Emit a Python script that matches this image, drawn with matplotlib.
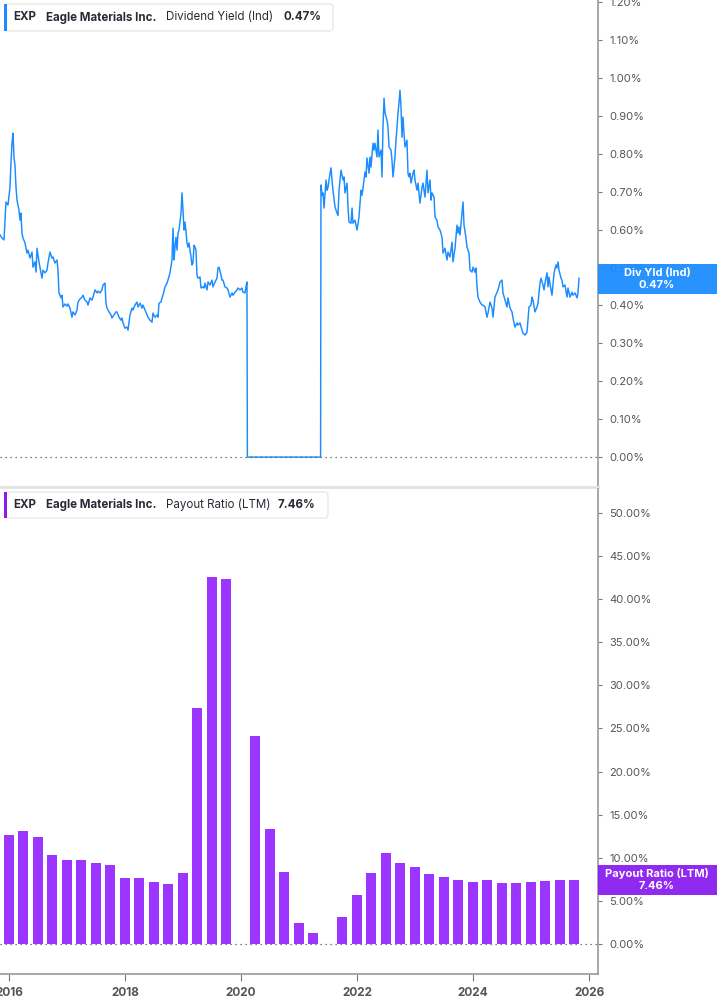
import numpy as np
import pandas as pd
import matplotlib
matplotlib.use('Agg')
import matplotlib.pyplot as plt
from matplotlib.patches import Rectangle, FancyBboxPatch
from matplotlib.ticker import FuncFormatter

plt.rcParams['font.family'] = ['Inter', 'DejaVu Sans']

# Dividend yield (Ind), decimal year / percent
div_years = [
    2015.845, 2015.879, 2015.914, 2015.931, 2015.948, 2015.983, 2016.017, 2016.034, 2016.052, 2016.069,
    2016.086, 2016.103, 2016.121, 2016.138, 2016.172, 2016.190, 2016.207, 2016.224, 2016.241, 2016.276,
    2016.310, 2016.328, 2016.362, 2016.397, 2016.414, 2016.448, 2016.466, 2016.483, 2016.517, 2016.534,
    2016.569, 2016.586, 2016.621, 2016.655, 2016.672, 2016.707, 2016.741, 2016.759, 2016.793, 2016.828,
    2016.845, 2016.862, 2016.897, 2016.914, 2016.931, 2016.966, 2017.000, 2017.017, 2017.052, 2017.086,
    2017.103, 2017.138, 2017.172, 2017.190, 2017.224, 2017.259, 2017.276, 2017.310, 2017.345, 2017.362,
    2017.397, 2017.431, 2017.448, 2017.483, 2017.517, 2017.534, 2017.569, 2017.603, 2017.621, 2017.655,
    2017.672, 2017.690, 2017.724, 2017.759, 2017.776, 2017.810, 2017.845, 2017.862, 2017.897, 2017.931,
    2017.948, 2017.966, 2018.000, 2018.034, 2018.052, 2018.086, 2018.121, 2018.138, 2018.172, 2018.207,
    2018.224, 2018.259, 2018.293, 2018.310, 2018.345, 2018.379, 2018.397, 2018.431, 2018.466, 2018.483,
    2018.517, 2018.552, 2018.569, 2018.586, 2018.621, 2018.638, 2018.655, 2018.690, 2018.724, 2018.741,
    2018.776, 2018.810, 2018.828, 2018.845, 2018.862, 2018.879, 2018.897, 2018.914, 2018.931, 2018.966,
    2018.983, 2019.000, 2019.017, 2019.034, 2019.052, 2019.069, 2019.086, 2019.103, 2019.138, 2019.155,
    2019.172, 2019.190, 2019.207, 2019.224, 2019.241, 2019.259, 2019.293, 2019.310, 2019.345, 2019.362,
    2019.379, 2019.414, 2019.431, 2019.466, 2019.500, 2019.517, 2019.552, 2019.586, 2019.603, 2019.621,
    2019.655, 2019.672, 2019.690, 2019.724, 2019.759, 2019.776, 2019.810, 2019.845, 2019.862, 2019.897,
    2019.931, 2019.948, 2019.983, 2020.017, 2020.034, 2020.069, 2020.086, 2020.103, 2020.110, 2021.372,
    2021.379, 2021.397, 2021.414, 2021.431, 2021.466, 2021.483, 2021.500, 2021.517, 2021.552, 2021.569,
    2021.586, 2021.621, 2021.655, 2021.672, 2021.690, 2021.724, 2021.759, 2021.776, 2021.793, 2021.828,
    2021.845, 2021.862, 2021.897, 2021.914, 2021.931, 2021.966, 2022.000, 2022.017, 2022.034, 2022.069,
    2022.086, 2022.103, 2022.138, 2022.155, 2022.172, 2022.207, 2022.224, 2022.241, 2022.276, 2022.293,
    2022.310, 2022.345, 2022.362, 2022.379, 2022.414, 2022.431, 2022.448, 2022.466, 2022.483, 2022.517,
    2022.534, 2022.552, 2022.586, 2022.603, 2022.621, 2022.655, 2022.672, 2022.690, 2022.707, 2022.724,
    2022.741, 2022.759, 2022.776, 2022.793, 2022.810, 2022.828, 2022.862, 2022.879, 2022.897, 2022.914,
    2022.931, 2022.966, 2022.983, 2023.000, 2023.034, 2023.052, 2023.086, 2023.121, 2023.138, 2023.172,
    2023.207, 2023.224, 2023.259, 2023.276, 2023.293, 2023.328, 2023.345, 2023.379, 2023.397, 2023.431,
    2023.466, 2023.483, 2023.517, 2023.552, 2023.569, 2023.603, 2023.638, 2023.655, 2023.690, 2023.724,
    2023.741, 2023.759, 2023.776, 2023.810, 2023.828, 2023.845, 2023.879, 2023.897, 2023.931, 2023.948,
    2023.983, 2024.000, 2024.034, 2024.052, 2024.069, 2024.086, 2024.121, 2024.155, 2024.172, 2024.207,
    2024.241, 2024.259, 2024.293, 2024.328, 2024.345, 2024.379, 2024.414, 2024.431, 2024.466, 2024.500,
    2024.517, 2024.552, 2024.586, 2024.603, 2024.638, 2024.672, 2024.690, 2024.707, 2024.724, 2024.759,
    2024.776, 2024.810, 2024.845, 2024.862, 2024.897, 2024.931, 2024.948, 2024.966, 2025.000, 2025.017,
    2025.034, 2025.069, 2025.103, 2025.121, 2025.155, 2025.172, 2025.207, 2025.224, 2025.241, 2025.276,
    2025.293, 2025.310, 2025.345, 2025.362, 2025.379, 2025.397, 2025.431, 2025.448, 2025.466, 2025.483,
    2025.517, 2025.534, 2025.552, 2025.586, 2025.621, 2025.638, 2025.672, 2025.707, 2025.724, 2025.759,
    2025.793, 2025.810, 2025.828,
]
div_yield = [
    0.586, 0.578, 0.573, 0.625, 0.673, 0.665, 0.712, 0.776, 0.828, 0.855,
    0.792, 0.770, 0.712, 0.678, 0.652, 0.625, 0.644, 0.591, 0.578, 0.565,
    0.538, 0.546, 0.525, 0.541, 0.501, 0.515, 0.488, 0.551, 0.515, 0.501,
    0.472, 0.493, 0.486, 0.493, 0.512, 0.541, 0.525, 0.528, 0.512, 0.520,
    0.493, 0.433, 0.420, 0.427, 0.396, 0.404, 0.398, 0.404, 0.393, 0.369,
    0.383, 0.375, 0.388, 0.409, 0.417, 0.422, 0.427, 0.414, 0.409, 0.401,
    0.420, 0.414, 0.422, 0.441, 0.433, 0.438, 0.433, 0.441, 0.454, 0.459,
    0.406, 0.393, 0.383, 0.375, 0.367, 0.375, 0.383, 0.383, 0.369, 0.361,
    0.367, 0.354, 0.340, 0.343, 0.335, 0.375, 0.393, 0.388, 0.401, 0.409,
    0.396, 0.406, 0.393, 0.401, 0.388, 0.375, 0.369, 0.361, 0.356, 0.380,
    0.369, 0.375, 0.369, 0.406, 0.409, 0.420, 0.427, 0.449, 0.459, 0.467,
    0.486, 0.520, 0.604, 0.520, 0.554, 0.580, 0.546, 0.591, 0.599, 0.644,
    0.697, 0.652, 0.599, 0.620, 0.594, 0.565, 0.554, 0.565, 0.528, 0.507,
    0.512, 0.559, 0.554, 0.546, 0.480, 0.472, 0.475, 0.446, 0.449, 0.446,
    0.459, 0.441, 0.462, 0.454, 0.467, 0.449, 0.462, 0.472, 0.499, 0.501,
    0.480, 0.467, 0.467, 0.449, 0.446, 0.441, 0.422, 0.433, 0.427, 0.435,
    0.441, 0.446, 0.441, 0.446, 0.435, 0.433, 0.449, 0.462, 0.000, 0.000,
    0.718, 0.691, 0.697, 0.657, 0.731, 0.704, 0.712, 0.731, 0.763, 0.731,
    0.704, 0.660, 0.644, 0.638, 0.704, 0.757, 0.731, 0.739, 0.697, 0.723,
    0.660, 0.620, 0.617, 0.657, 0.617, 0.625, 0.599, 0.617, 0.633, 0.704,
    0.691, 0.710, 0.752, 0.739, 0.789, 0.749, 0.792, 0.765, 0.828, 0.810,
    0.828, 0.792, 0.863, 0.792, 0.810, 0.739, 0.871, 0.947, 0.908, 0.889,
    0.871, 0.818, 0.810, 0.784, 0.739, 0.792, 0.836, 0.871, 0.908, 0.934,
    0.968, 0.923, 0.844, 0.897, 0.855, 0.818, 0.836, 0.749, 0.739, 0.749,
    0.723, 0.749, 0.757, 0.731, 0.704, 0.723, 0.670, 0.712, 0.723, 0.686,
    0.757, 0.697, 0.731, 0.678, 0.697, 0.686, 0.633, 0.625, 0.607, 0.599,
    0.580, 0.538, 0.551, 0.520, 0.541, 0.528, 0.567, 0.515, 0.551, 0.612,
    0.591, 0.607, 0.586, 0.644, 0.673, 0.612, 0.578, 0.554, 0.538, 0.493,
    0.488, 0.501, 0.488, 0.499, 0.449, 0.422, 0.409, 0.401, 0.401, 0.396,
    0.369, 0.380, 0.409, 0.393, 0.369, 0.422, 0.435, 0.441, 0.462, 0.467,
    0.433, 0.414, 0.396, 0.420, 0.393, 0.383, 0.367, 0.354, 0.343, 0.354,
    0.348, 0.354, 0.335, 0.327, 0.322, 0.330, 0.361, 0.396, 0.401, 0.422,
    0.414, 0.383, 0.396, 0.406, 0.459, 0.472, 0.454, 0.441, 0.459, 0.486,
    0.449, 0.475, 0.441, 0.427, 0.454, 0.486, 0.507, 0.499, 0.515, 0.493,
    0.472, 0.467, 0.449, 0.454, 0.422, 0.446, 0.422, 0.435, 0.427, 0.433,
    0.420, 0.433, 0.472,
]

# Payout ratio (LTM), quarterly, percent (0 = no bar)
quarters = pd.date_range('2015-12-31', '2025-09-30', freq='QE')
payout = [
    12.6, 13.1, 12.4, 10.3, 9.7, 9.8, 9.35, 9.2, 7.6, 7.6,
    7.25, 6.95, 8.2, 27.4, 42.6, 42.3, 0.0, 24.1, 13.35, 8.35,
    2.38, 1.27, 0.0, 3.1, 5.65, 8.23, 10.54, 9.38, 8.88, 8.15,
    7.73, 7.38, 7.15, 7.38, 7.12, 7.12, 7.15, 7.27, 7.42, 7.46,
]
bar_years = [q.year + (q.dayofyear - 1) / 365.0 for q in quarters]

last_yield = 0.47
last_payout = 7.46
year_ticks = [2016, 2018, 2020, 2022, 2024, 2026]

W, H = 717, 1005
fig = plt.figure(figsize=(W / 100, H / 100), dpi=100)


def fx(px):
    return px / W


def fy(py):
    return 1 - py / H


blue = '#1a8cff'
purple = '#9b35ff'
xlim = (2015.845, 2026.155)

ax1 = fig.add_axes([0, fy(487), fx(598), 487 / H])
ax2 = fig.add_axes([0, fy(974), fx(598), (974 - 489) / H])

ax1.plot(div_years, div_yield, color=blue, lw=1.05)
ax1.set_xlim(*xlim)
ax1.set_ylim(-0.079, 1.206)
ax1.axhline(0, color='#555555', ls=(0, (1, 3)), lw=0.9)
ax1.set_yticks(np.arange(0, 1.21, 0.1))
ax1.yaxis.set_major_formatter(FuncFormatter(lambda v, p: f'{v:.2f}%'))

ax2.bar(bar_years, payout, width=0.17, color=purple, edgecolor='none')
ax2.set_xlim(*xlim)
ax2.set_ylim(-3.48, 52.78)
ax2.axhline(0, color='#555555', ls=(0, (1, 3)), lw=0.9)
ax2.set_yticks(np.arange(0, 51, 5))
ax2.yaxis.set_major_formatter(FuncFormatter(lambda v, p: f'{v:.2f}%'))
ax2.set_xticks(year_ticks)
ax2.set_xticklabels([str(y) for y in year_ticks], fontweight='bold')

for ax in (ax1, ax2):
    ax.yaxis.tick_right()
    ax.tick_params(axis='y', direction='out', length=3, width=0.8, color='#777777',
                   labelcolor='#555555', labelsize=8, pad=5)
    ax.spines['left'].set_visible(False)
    ax.spines['top'].set_visible(False)
    ax.spines['right'].set_color('#9a9a9a')
    ax.spines['right'].set_linewidth(1.2)

ax1.tick_params(axis='x', bottom=False, labelbottom=False)
ax1.spines['bottom'].set_color('#e2e2e2')
ax1.spines['bottom'].set_linewidth(2)
ax2.spines['bottom'].set_color('#9a9a9a')
ax2.spines['bottom'].set_linewidth(1.2)
ax2.tick_params(axis='x', direction='out', length=5, width=0.8, color='#777777',
                labelcolor='#555555', labelsize=8.5, pad=4)


def side_label(ax, val, text, color):
    y_fig = ax.transData.transform((xlim[0], val))[1] / fig.bbox.height
    h = 30 / H
    fig.patches.append(Rectangle((fx(598), y_fig - h / 2), fx(119), h, transform=fig.transFigure,
                                 facecolor=color, edgecolor='none', alpha=0.94, zorder=5))
    fig.text(fx(657), y_fig, text, ha='center', va='center', color='white', fontsize=8,
             fontweight='bold', linespacing=1.2, zorder=6)


def legend_box(y0, y1, x1, color, parts):
    fig.patches.append(FancyBboxPatch((fx(5), fy(y1)), fx(x1 - 5), (y1 - y0) / H,
                                      boxstyle='round,pad=0,rounding_size=0.004',
                                      transform=fig.transFigure, facecolor='white',
                                      edgecolor='#e4e4e4', lw=0.8, zorder=5))
    fig.patches.append(Rectangle((fx(4), fy(y1)), fx(3), (y1 - y0) / H, transform=fig.transFigure,
                                 facecolor=color, edgecolor='none', zorder=6))
    yc = fy((y0 + y1) / 2)
    for txt, x, wt in parts:
        fig.text(fx(x), yc, txt, ha='left', va='center', fontsize=8.3, fontweight=wt,
                 color='#2a2a35', zorder=7)


side_label(ax1, last_yield, f'Div Yld (Ind)\n{last_yield:.2f}%', '#1a8cff')
side_label(ax2, last_payout, f'Payout Ratio (LTM)\n{last_payout:.2f}%', '#8a1cf0')

legend_box(4, 31, 333, blue, [('EXP', 13, 'bold'), ('Eagle Materials Inc.', 46, 'bold'),
                              ('Dividend Yield (Ind)', 166, 'normal'), (f'{last_yield:.2f}%', 283, 'bold')])
legend_box(492, 518, 328, '#8a1cf0', [('EXP', 13, 'bold'), ('Eagle Materials Inc.', 46, 'bold'),
                                      ('Payout Ratio (LTM)', 166, 'normal'), (f'{last_payout:.2f}%', 278, 'bold')])

fig.savefig('out.png', dpi=100)
